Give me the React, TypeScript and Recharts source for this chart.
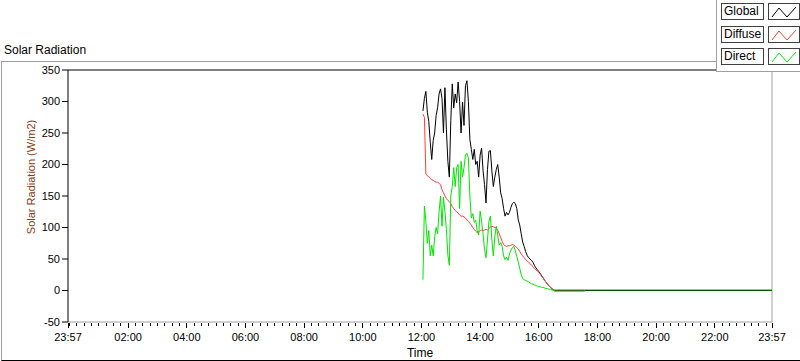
import { LineChart, Line, XAxis, YAxis, ReferenceLine } from "recharts";

// minutes after midnight (waveform sampled every 3 min), plus the flat tail
const times = [
  723, 726, 729, 732, 735, 738, 741, 744, 747, 750,
  753, 756, 759, 762, 765, 768, 771, 774, 777, 780,
  783, 786, 789, 792, 795, 798, 801, 804, 807, 810,
  813, 816, 819, 822, 825, 828, 831, 834, 837, 840,
  843, 846, 849, 852, 855, 858, 861, 864, 867, 870,
  873, 876, 879, 882, 885, 888, 891, 894, 897, 900,
  903, 906, 909, 912, 915, 918, 921, 924, 927, 930,
  933, 936, 939, 942, 945, 948, 951, 954, 957, 960,
  963, 966, 969, 972, 975, 978, 981, 984, 987, 990,
  993, 1054, 1437,
];

const globalRad = [
  285, 305, 316, 283, 268, 235, 208, 238, 250, 278,
  290, 312, 320, 305, 250, 322, 255, 205, 180, 270,
  328, 290, 312, 298, 331, 300, 250, 299, 262, 325,
  333, 300, 240, 224, 208, 224, 200, 205, 180, 215,
  226, 190, 168, 139, 192, 221, 222, 190, 165, 180,
  192, 200, 180, 155, 146, 130, 118, 124, 120, 124,
  132, 138, 140, 138, 130, 112, 104, 90, 77, 70,
  62, 56, 52, 50, 48, 45, 40, 36, 33, 30,
  27, 23, 20, 16, 13, 10, 7, 5, 3, 1,
  0, 0, 0,
];

const diffuseRad = [
  280, 275, 185, 182, 181, 178, 176, 175, 173, 172,
  172, 170, 168, 160, 155, 150, 146, 143, 141, 138,
  133, 130, 127, 125, 123, 120, 118, 118, 117, 115,
  112, 110, 107, 104, 100, 97, 94, 92, 93, 95,
  96, 95, 96, 97, 96, 98, 101, 102, 101, 100,
  99, 96, 90, 84, 78, 73, 71, 70, 71, 71,
  72, 73, 72, 70, 68, 66, 62, 58, 55, 52,
  49, 47, 45, 43, 40, 38, 35, 33, 31, 29,
  26, 22, 20, 16, 13, 10, 7, 5, 2, 0,
  -1, -1, null,
];

const directRad = [
  17, 134, 110, 75, 95, 55, 72, 55, 85, 100,
  90, 125, 150, 102, 148, 125, 97, 56, 40, 150,
  165, 195, 165, 195, 200, 130, 205, 180, 195, 215,
  218, 210, 150, 115, 122, 108, 112, 95, 88, 126,
  110, 90, 65, 52, 80, 110, 118, 80, 55, 85,
  102, 88, 72, 76, 70, 55, 49, 53, 48, 58,
  64, 68, 70, 63, 54, 45, 35, 25, 19, 17,
  16, 15, 14, 12, 11, 10, 9, 8, 7, 6,
  6, 5, 5, 4, 3, 3, 2, 2, 1, 0,
  1, 1, 1,
];

const xMajorTicks = [-3, 120, 240, 360, 480, 600, 720, 840, 960, 1080, 1200, 1320, 1437];
const xMajorLabels = [
  "23:57", "02:00", "04:00", "06:00", "08:00", "10:00", "12:00",
  "14:00", "16:00", "18:00", "20:00", "22:00", "23:57",
];
const yTicks = [-50, 0, 50, 100, 150, 200, 250, 300, 350];

const series = [
  { key: "global", name: "Global", color: "#000000" },
  { key: "diffuse", name: "Diffuse", color: "#ff3c3c" },
  { key: "direct", name: "Direct", color: "#00e600" },
];

const data = times.map((t, i) => ({
  t,
  global: globalRad[i],
  diffuse: diffuseRad[i],
  direct: directRad[i],
}));

// 15 minute minor ticks
const minorTicks: number[] = [];
for (let m = 0; m < 1440; m += 15) minorTicks.push(m);
const allTicks = Array.from(new Set([...xMajorTicks, ...minorTicks])).sort((a, b) => a - b);

const FONT = "'Liberation Sans', Arial, sans-serif";

function TimeTick(props: any) {
  const { x, y, payload } = props;
  const i = xMajorTicks.indexOf(payload.value);
  const major = i >= 0;
  return (
    <g>
      <line x1={x} x2={x} y1={y + 1} y2={y + (major ? 6 : 4)} stroke="#000" shapeRendering="crispEdges" />
      {major && (
        <text x={x} y={y + 19} textAnchor="middle" fontSize={11} fill="#000" fontFamily={FONT}>
          {xMajorLabels[i]}
        </text>
      )}
    </g>
  );
}

function Swatch({ color }: { color: string }) {
  return (
    <svg width={30} height={16}>
      <path d="M3 13 L10 4 L18 13 L27 3" fill="none" stroke={color} strokeWidth={1} />
    </svg>
  );
}

export default function App() {
  return (
    <div
      style={{
        position: "fixed",
        left: 0,
        top: 0,
        width: 800,
        height: 361,
        background: "#fff",
        fontFamily: FONT,
        overflow: "hidden",
      }}
    >
      {/* outer frame */}
      <div
        style={{
          position: "absolute",
          left: 1,
          top: 61,
          width: 799,
          height: 298,
          borderLeft: "1px solid #a0a0a0",
          borderTop: "1px solid #a0a0a0",
          borderBottom: "1px solid #000",
        }}
      />
      <div style={{ position: "absolute", left: 4, top: 42, fontSize: 12, lineHeight: "16px", color: "#000" }}>
        Solar Radiation
      </div>

      <div style={{ position: "absolute", left: 0, top: 0 }}>
        <LineChart width={800} height={361} data={data} margin={{ top: 70, right: 28, bottom: 0, left: 8 }}>
          <XAxis
            dataKey="t"
            type="number"
            domain={[-3, 1437]}
            ticks={allTicks}
            interval={0}
            tickSize={0}
            tickMargin={0}
            tick={<TimeTick />}
            tickLine={false}
            axisLine={{ stroke: "#a0a0a0" }}
            height={39}
            label={{ value: "Time", position: "insideBottom", offset: 4, fontSize: 12, fill: "#000", fontFamily: FONT }}
          />
          <YAxis
            type="number"
            domain={[-50, 350]}
            ticks={yTicks}
            interval={0}
            width={60}
            tickSize={6}
            tickMargin={2}
            axisLine={{ stroke: "#000" }}
            tickLine={{ stroke: "#000" }}
            tick={{ fontSize: 11, fill: "#000", fontFamily: FONT }}
            label={{
              content: () => (
                <text
                  transform="rotate(-90)"
                  x={-177}
                  y={35}
                  textAnchor="middle"
                  fontSize={11}
                  fill="#8a3c14"
                  fontFamily={FONT}
                >
                  Solar Radiation (W/m2)
                </text>
              ),
            }}
          />
          <ReferenceLine y={350} stroke="#000" />
          <ReferenceLine x={1437} stroke="#a0a0a0" />
          {series.map((s) => (
            <Line
              key={s.key}
              dataKey={s.key}
              name={s.name}
              type="linear"
              stroke={s.color}
              strokeWidth={1}
              dot={false}
              activeDot={false}
              isAnimationActive={false}
            />
          ))}
        </LineChart>
      </div>

      {/* legend panel */}
      <div
        style={{
          position: "absolute",
          left: 716,
          top: 0,
          width: 84,
          height: 71,
          background: "#fff",
          borderLeft: "1px solid #a0a0a0",
          borderBottom: "1px solid #a0a0a0",
        }}
      >
        {series.map((s, i) => (
          <div key={s.key} style={{ position: "absolute", left: 4, top: 3 + i * 22.5, display: "flex", gap: 4 }}>
            <div
              style={{
                width: 41,
                height: 15,
                border: "1px solid #404040",
                fontSize: 12,
                lineHeight: "15px",
                paddingLeft: 0,
                boxSizing: "content-box",
                textIndent: 2,
                color: "#000",
              }}
            >
              {s.name}
            </div>
            <div style={{ width: 30, height: 15, border: "1px solid #404040", overflow: "hidden" }}>
              <Swatch color={s.color} />
            </div>
          </div>
        ))}
      </div>
    </div>
  );
}
